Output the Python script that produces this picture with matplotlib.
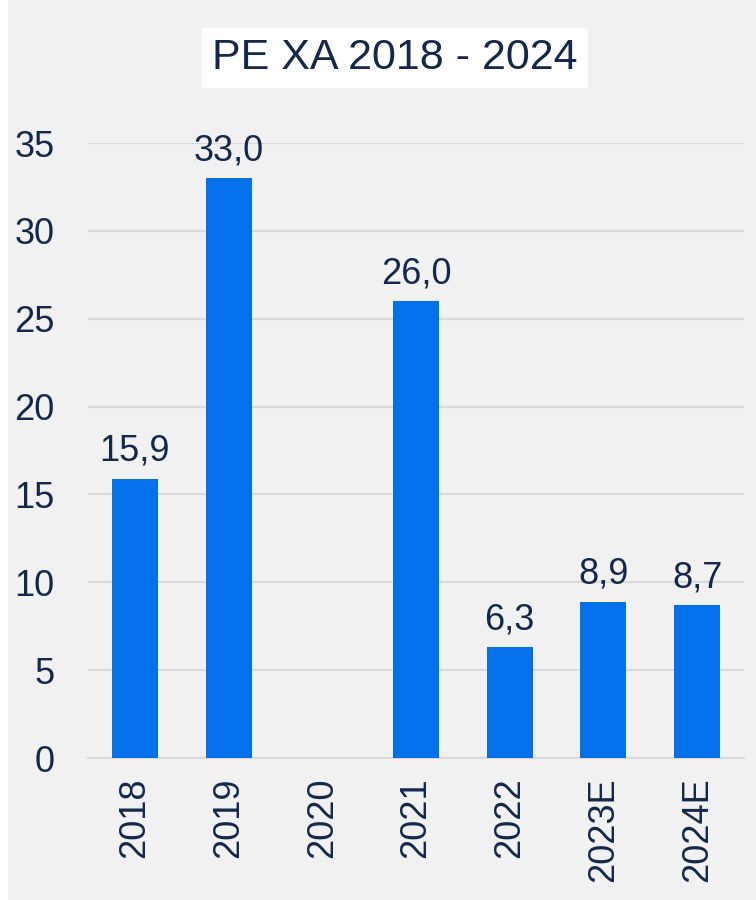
import numpy as np
import matplotlib.pyplot as plt
from matplotlib.patches import Rectangle

# datos
anios = ["2018", "2019", "2020", "2021", "2022", "2023E", "2024E"]
pe = [15.9, 33.0, np.nan, 26.0, 6.3, 8.9, 8.7]
etiquetas = ["15,9", "33,0", "", "26,0", "6,3", "8,9", "8,7"]
yticks = [0, 5, 10, 15, 20, 25, 30, 35]

azul = "#0570EC"
texto = "#14284B"
gris = "#D9D9D9"

plt.rcParams['font.family'] = ['Liberation Sans', 'DejaVu Sans']

fig = plt.figure(figsize=(7.56, 9), dpi=100)
fig.patch.set_facecolor("#F1F1F1")
fig.patches.append(Rectangle((0, 0), 8 / 756, 1, transform=fig.transFigure,
                             facecolor="white", edgecolor="none"))

ax = fig.add_axes([88 / 756, 1 - 758 / 900, 656 / 756, 615 / 900])
ax.set_facecolor("#F1F1F1")

x = np.arange(len(anios))
vals = np.nan_to_num(pe)
ax.bar(x, vals, width=0.49, color=azul, zorder=3)

for xi, v, lab in zip(x, vals, etiquetas):
    if lab:
        ax.annotate(lab, (xi, v), xytext=(0, 7), textcoords="offset points",
                    ha="center", va="bottom", fontsize=26, color=texto, zorder=4)

ax.set_xlim(-0.5, len(anios) - 0.5)
ax.set_ylim(0, 35)
ax.set_yticks(yticks)
ax.set_yticklabels([str(t) for t in yticks], fontsize=26, color=texto)
ax.set_xticks(x)
ax.set_xticklabels(anios, rotation=90, fontsize=26, color=texto)
ax.tick_params(axis="both", length=0)
ax.tick_params(axis="y", pad=24)
ax.tick_params(axis="x", pad=14)
for lado in ["top", "right", "left"]:
    ax.spines[lado].set_visible(False)
ax.spines["bottom"].set_color(gris)
ax.spines["bottom"].set_linewidth(1.5)
ax.yaxis.grid(True, color=gris, linewidth=1.5, zorder=0)
ax.set_axisbelow(True)

fig.text(395 / 756, 1 - 58 / 900, "PE XA 2018 - 2024", ha="center", va="center",
         fontsize=31, color=texto,
         bbox=dict(facecolor="white", edgecolor="none", pad=7))

fig.savefig("out.png", dpi=100, facecolor=fig.get_facecolor())
